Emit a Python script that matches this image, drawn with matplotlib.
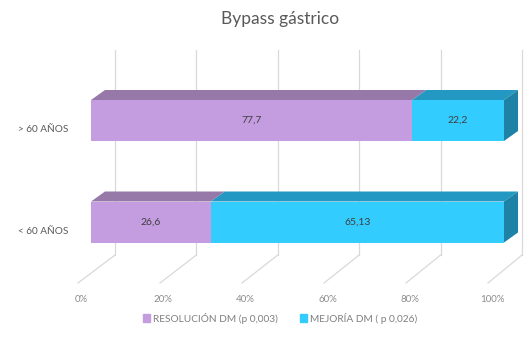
import matplotlib.pyplot as plt
from matplotlib.patches import Patch
import numpy as np

plt.rcParams['font.family'] = ['Lato', 'DejaVu Sans']

# data
categories = ['< 60 AÑOS', '> 60 AÑOS']
resolucion = [26.6, 77.7]
mejoria = [65.13, 22.2]
series_labels = ['RESOLUCIÓN DM (p 0,003)', 'MEJORÍA DM ( p 0,026)']
tick_values = [0, 20, 40, 60, 80, 100]
tick_labels = ['0%', '20%', '40%', '60%', '80%', '100%']
title = 'Bypass gástrico'

# colours: front face, top face, side face
purple = ('#C49CE0', '#9679A8', '#8A6C9C')
blue = ('#33CCFF', '#2398C2', '#1E82A6')

# pixel <-> data helpers (figure is 527x338 px, axes cover it all)
SX = 4.13    # px per percent on the bar front plane
SY = 101.5   # px per category step
X0, Y0 = 91, 222   # pixel of (0%, first category)


def X(px):
    return (px - X0) / SX


def Y(py):
    return (Y0 - py) / SY


DX, DY = 14 / SX, 10 / SY   # bar depth offset in data units
H = 41 / SY                  # bar thickness

fig = plt.figure(figsize=(5.27, 3.38), dpi=100)
ax = fig.add_axes([0, 0, 1, 1])
ax.set_xlim(X(0), X(527))
ax.set_ylim(Y(338), Y(0))
ax.axis('off')

# 3D-ish grid: vertical lines on the back wall, diagonals on the floor
grid_c = '#D9D9D9'
for t in tick_values:
    xb = X(115 + t * 4.07)
    xf = X(78 + t * 4.1)
    ax.plot([xb, xb], [Y(255), Y(50)], color=grid_c, lw=0.9, zorder=1)
    ax.plot([xb, xf], [Y(255), Y(283)], color=grid_c, lw=0.9, zorder=1)

for t, lab in zip(tick_values, tick_labels):
    ax.text(X(81 + t * 4.11), Y(299), lab, ha='center', va='center',
            fontsize=7, color='#8C8C8C')

# stacked 100% bars with a fake depth
for i, cat in enumerate(categories):
    total = resolucion[i] + mejoria[i]
    left = 0.0
    segs = [(resolucion[i], purple, series_labels[0]),
            (mejoria[i], blue, series_labels[1])]
    for j, (val, cols, lab) in enumerate(segs):
        w = val / total * 100
        ax.barh(i, w, left=left, height=H, color=cols[0], zorder=3,
                label=lab if i == 0 else None)
        top = i + H / 2
        ax.fill([left, left + w, left + w + DX, left + DX],
                [top, top, top + DY, top + DY], color=cols[1], lw=0, zorder=3)
        if j == len(segs) - 1:
            r = left + w
            ax.fill([r, r + DX, r + DX, r],
                    [i - H / 2, i - H / 2 + DY, top + DY, top],
                    color=cols[2], lw=0, zorder=3)
        ax.text(left + w / 2, i, f'{val}'.replace('.', ','), ha='center',
                va='center', fontsize=7.5, color='#404040', zorder=4)
        left += w
    ax.text(X(68), i - 9 / SY, cat, ha='right', va='center',
            fontsize=7.2, color='#595959')

fig.text(280 / 527, 1 - 19 / 338, title, ha='center', va='center',
         fontsize=12.5, color='#595959')

handles = [Patch(color=purple[0]), Patch(color=blue[0])]
ax.legend(handles, series_labels, loc='center', ncol=2, frameon=False,
          bbox_to_anchor=(280 / 527, 1 - 318 / 338), fontsize=7.3,
          handlelength=0.7, handleheight=0.7, handletextpad=0.3,
          columnspacing=2.2, labelcolor='#7F7F7F')

fig.savefig('out.png', dpi=100)
